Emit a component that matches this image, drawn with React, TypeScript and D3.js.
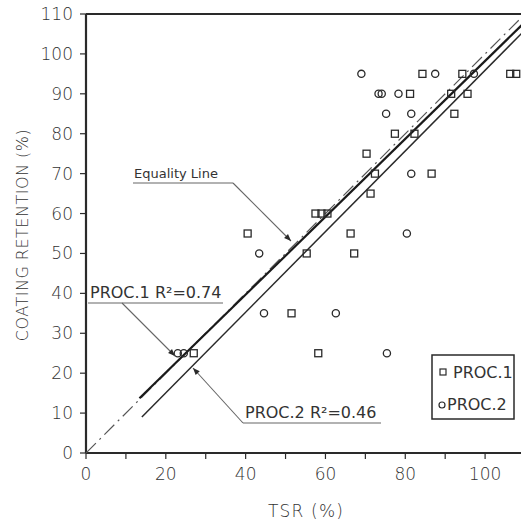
import { useEffect, useRef } from "react";
import * as d3 from "d3";

// TSR (%) vs coating retention (%), two procedures
const proc1X = [27, 40.5, 51.5, 55.3, 57.5, 59, 60.5, 58.2, 66.3, 67.2, 71.3, 72.4, 70.3, 77.4, 82.3, 81.2, 86.6, 92.3, 91.5, 95.6, 84.3, 94.3, 106.3, 107.8];
const proc1Y = [25, 55, 35, 50, 60, 60, 60, 25, 55, 50, 65, 70, 75, 80, 80, 90, 70, 85, 90, 90, 95, 95, 95, 95];
const proc2X = [23, 24.5, 43.4, 44.6, 62.6, 75.4, 80.4, 81.5, 75.2, 81.5, 73.3, 74.1, 78.3, 69, 87.5, 97.2];
const proc2Y = [25, 25, 50, 35, 35, 25, 55, 70, 85, 85, 90, 90, 90, 95, 95, 95];

// fitted lines, end points
const fit1X = [13.4, 110];
const fit1Y = [13.7, 108];
const fit2X = [14, 110];
const fit2Y = [9, 106];
const equalityX = [0, 110];

const yTicks = d3.range(0, 111, 10);
const xTicks = d3.range(0, 111, 10);
const xLabels = [0, 20, 40, 60, 80, 100];

const W = 521;
const H = 521;
const FONT = "'DejaVu Sans', 'Liberation Sans', sans-serif";
const INK = "#2a2a2a";

export default function App() {
  const svgRef = useRef<SVGSVGElement>(null);

  useEffect(() => {
    const svg = d3.select(svgRef.current);
    svg.selectAll("*").remove();

    const x = d3.scaleLinear().domain([0, 110]).range([86, 525]);
    const y = d3.scaleLinear().domain([0, 110]).range([453, 14]);

    const defs = svg.append("defs");
    defs
      .append("clipPath")
      .attr("id", "plot")
      .append("rect")
      .attr("x", x(0))
      .attr("y", y(110))
      .attr("width", x(110) - x(0))
      .attr("height", y(0) - y(110));
    defs
      .append("marker")
      .attr("id", "arrow")
      .attr("viewBox", "0 0 10 10")
      .attr("refX", 10)
      .attr("refY", 5)
      .attr("markerWidth", 9)
      .attr("markerHeight", 7)
      .attr("orient", "auto")
      .attr("markerUnits", "userSpaceOnUse")
      .append("path")
      .attr("d", "M0,1 L10,5 L0,9 Z")
      .attr("fill", INK);

    // frame
    const frame = svg.append("g").attr("stroke", INK).attr("stroke-width", 2.2);
    frame.append("line").attr("x1", x(0)).attr("x2", x(0)).attr("y1", y(0)).attr("y2", y(110));
    frame.append("line").attr("x1", x(0)).attr("x2", x(110)).attr("y1", y(0)).attr("y2", y(0));
    frame.append("line").attr("x1", x(0)).attr("x2", x(110)).attr("y1", y(110)).attr("y2", y(110));

    // y axis
    const yAxis = svg.append("g");
    yAxis
      .selectAll("line")
      .data(yTicks)
      .join("line")
      .attr("x1", x(0) - 6)
      .attr("x2", x(0))
      .attr("y1", (d) => y(d))
      .attr("y2", (d) => y(d))
      .attr("stroke", INK)
      .attr("stroke-width", 1.2);
    yAxis
      .selectAll("text")
      .data(yTicks)
      .join("text")
      .attr("x", 73)
      .attr("y", (d) => y(d) + 6)
      .attr("text-anchor", "end")
      .attr("font-family", FONT)
      .attr("font-weight", 300)
      .attr("font-size", 17)
      .attr("fill", "#333")
      .text((d) => d);

    // x axis
    const xAxis = svg.append("g");
    xAxis
      .selectAll("line")
      .data(xTicks)
      .join("line")
      .attr("x1", (d) => x(d))
      .attr("x2", (d) => x(d))
      .attr("y1", y(0))
      .attr("y2", y(0) + 6)
      .attr("stroke", INK)
      .attr("stroke-width", 1.2);
    xAxis
      .selectAll("text")
      .data(xLabels)
      .join("text")
      .attr("x", (d) => x(d))
      .attr("y", 480)
      .attr("text-anchor", "middle")
      .attr("font-family", FONT)
      .attr("font-weight", 300)
      .attr("font-size", 17)
      .attr("fill", "#333")
      .text((d) => d);

    svg
      .append("text")
      .attr("x", 306)
      .attr("y", 517)
      .attr("text-anchor", "middle")
      .attr("font-family", FONT)
      .attr("font-weight", 300)
      .attr("font-size", 17)
      .attr("letter-spacing", 1.2)
      .attr("fill", "#333")
      .text("TSR (%)");
    svg
      .append("text")
      .attr("transform", "translate(28,235) rotate(-90)")
      .attr("text-anchor", "middle")
      .attr("font-family", FONT)
      .attr("font-weight", 300)
      .attr("font-size", 16)
      .attr("letter-spacing", 0.5)
      .attr("fill", "#333")
      .text("COATING RETENTION (%)");

    // lines
    const plot = svg.append("g").attr("clip-path", "url(#plot)");
    const line = d3
      .line<[number, number]>()
      .x((d) => x(d[0]))
      .y((d) => y(d[1]));
    plot
      .append("path")
      .attr("d", line(equalityX.map((v) => [v, v])))
      .attr("fill", "none")
      .attr("stroke", "#555")
      .attr("stroke-width", 1.2)
      .attr("stroke-dasharray", "14 5 2 5");
    plot
      .append("path")
      .attr("d", line(fit1X.map((v, i) => [v, fit1Y[i]])))
      .attr("fill", "none")
      .attr("stroke", "#1a1a1a")
      .attr("stroke-width", 2.2);
    plot
      .append("path")
      .attr("d", line(fit2X.map((v, i) => [v, fit2Y[i]])))
      .attr("fill", "none")
      .attr("stroke", "#2a2a2a")
      .attr("stroke-width", 1.5);

    // points
    plot
      .append("g")
      .selectAll("rect")
      .data(proc1X.map((v, i) => [v, proc1Y[i]]))
      .join("rect")
      .attr("x", (d) => x(d[0]) - 3.5)
      .attr("y", (d) => y(d[1]) - 3.5)
      .attr("width", 7)
      .attr("height", 7)
      .attr("fill", "none")
      .attr("stroke", INK)
      .attr("stroke-width", 1.3);
    plot
      .append("g")
      .selectAll("circle")
      .data(proc2X.map((v, i) => [v, proc2Y[i]]))
      .join("circle")
      .attr("cx", (d) => x(d[0]))
      .attr("cy", (d) => y(d[1]))
      .attr("r", 3.6)
      .attr("fill", "none")
      .attr("stroke", INK)
      .attr("stroke-width", 1.3);

    // annotations
    const note = svg.append("g");
    const addNote = (
      label: string,
      tx: number,
      ty: number,
      size: number,
      under: [number, number, number],
      leader: [number, number][]
    ) => {
      note
        .append("text")
        .attr("x", tx)
        .attr("y", ty)
        .attr("font-family", FONT)
        .attr("font-size", size)
        .attr("fill", "#333")
        .text(label);
      note
        .append("line")
        .attr("x1", under[0])
        .attr("x2", under[1])
        .attr("y1", under[2])
        .attr("y2", under[2])
        .attr("stroke", "#666")
        .attr("stroke-width", 1.2);
      note
        .append("path")
        .attr("d", d3.line()(leader))
        .attr("fill", "none")
        .attr("stroke", "#666")
        .attr("stroke-width", 1.1)
        .attr("marker-end", "url(#arrow)");
    };
    addNote("Equality Line", 134, 178, 13, [133, 233, 183], [[233, 183], [291, 241]]);
    addNote("PROC.1 R²=0.74", 90, 298, 16, [88, 223, 303], [[122, 303], [175, 356]]);
    addNote("PROC.2 R²=0.46", 245, 418, 16, [243, 381, 423], [[243, 423], [193, 368]]);

    // legend
    const legend = svg.append("g");
    legend
      .append("rect")
      .attr("x", 432)
      .attr("y", 355)
      .attr("width", 82)
      .attr("height", 64)
      .attr("fill", "white")
      .attr("stroke", INK)
      .attr("stroke-width", 1.5);
    legend
      .append("rect")
      .attr("x", 440)
      .attr("y", 369)
      .attr("width", 6)
      .attr("height", 6)
      .attr("fill", "none")
      .attr("stroke", INK)
      .attr("stroke-width", 1.2);
    legend
      .append("circle")
      .attr("cx", 442)
      .attr("cy", 405)
      .attr("r", 3)
      .attr("fill", "none")
      .attr("stroke", INK)
      .attr("stroke-width", 1.2);
    legend
      .append("text")
      .attr("x", 453)
      .attr("y", 378)
      .attr("font-family", FONT)
      .attr("font-size", 16)
      .attr("fill", "#333")
      .text("PROC.1");
    legend
      .append("text")
      .attr("x", 447)
      .attr("y", 410)
      .attr("font-family", FONT)
      .attr("font-size", 16)
      .attr("fill", "#333")
      .text("PROC.2");
  }, []);

  return (
    <svg
      ref={svgRef}
      width={W}
      height={H}
      style={{ position: "fixed", left: 0, top: 0, background: "white" }}
    />
  );
}
